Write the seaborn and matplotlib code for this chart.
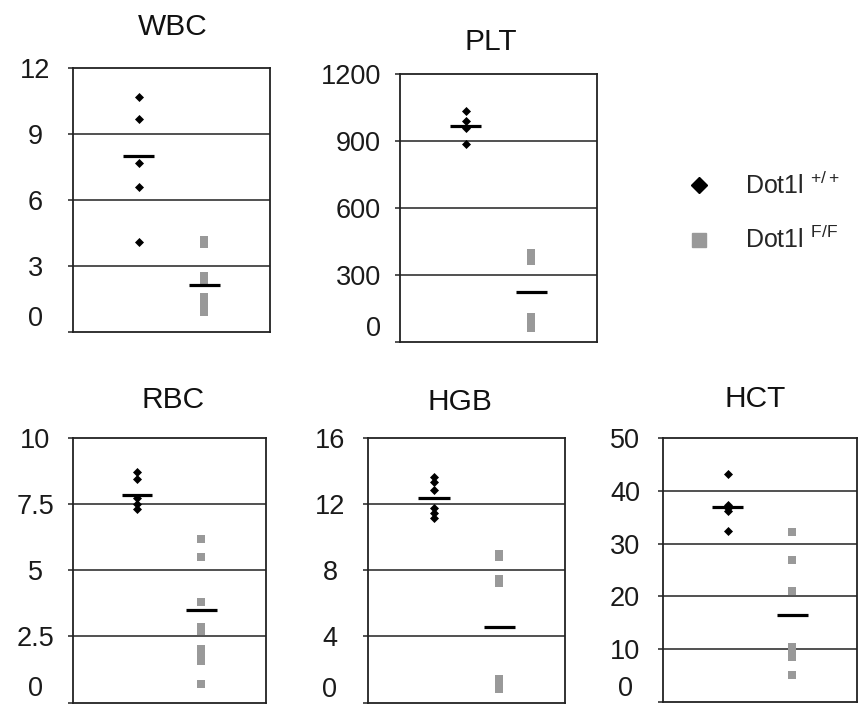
import matplotlib
matplotlib.use("Agg")
import matplotlib.pyplot as plt
import pandas as pd
import seaborn as sns
from matplotlib.lines import Line2D

sns.set_style("white")
plt.rcParams["font.family"] = ["Liberation Sans", "DejaVu Sans"]
plt.rcParams["mathtext.fontset"] = "custom"
plt.rcParams["mathtext.rm"] = "Liberation Sans"
plt.rcParams["mathtext.it"] = "Liberation Sans"
plt.rcParams["mathtext.bf"] = "Liberation Sans:bold"

GENOTYPES = ["+/+", "F/F"]

# --- blood counts per mouse -------------------------------------------------
wbc_wt = [10.7, 9.7, 7.7, 6.6, 4.1]
wbc_ff = [4.2, 4.0, 2.55, 2.3, 1.6, 1.25, 0.9]
wbc_mean = [8.0, 2.15]
wbc_ticks = [0, 3, 6, 9, 12]

plt_wt = [1035, 990, 960, 885]
plt_ff = [398, 364, 112, 87, 61]
plt_mean = [965, 222]
plt_ticks = [0, 300, 600, 900, 1200]

rbc_wt = [8.73, 8.46, 7.73, 7.51, 7.31]
rbc_ff = [6.17, 5.49, 3.8, 2.85, 2.7, 2.03, 1.8, 1.57, 0.71]
rbc_mean = [7.85, 3.5]
rbc_ticks = [0, 2.5, 5, 7.5, 10]
rbc_ticklabels = ["0", "2.5", "5", "7.5", "10"]

hgb_wt = [13.65, 13.3, 12.84, 11.74, 11.44, 11.13]
hgb_ff = [9.0, 8.8, 7.47, 7.24, 1.43, 1.1, 0.84]
hgb_mean = [12.34, 4.6]
hgb_ticks = [0, 4, 8, 12, 16]

hct_wt = [43.2, 37.3, 36.8, 36.2, 32.4]
hct_ff = [32.2, 26.9, 21.1, 10.3, 9.35, 8.4, 5.05]
hct_mean = [37.0, 16.4]
hct_ticks = [0, 10, 20, 30, 40, 50]

W, H = 858, 706
fig = plt.figure(figsize=(W / 100, H / 100), dpi=100)

LINE = "#222222"
GREY = "#999999"


def add_axes_px(left, right, top, bottom):
    return fig.add_axes([left / W, 1 - bottom / H, (right - left) / W, (bottom - top) / H])


def panel(box, title, wt, ff, means, ticks, ticklabels=None,
          title_x=0.5, title_pad=22, align="center", label_pad=23.5):
    ax = add_axes_px(*box)
    df = pd.DataFrame({
        "genotype": [GENOTYPES[0]] * len(wt) + [GENOTYPES[1]] * len(ff),
        "value": list(wt) + list(ff),
    })
    sns.stripplot(data=df[df.genotype == GENOTYPES[0]], x="genotype", y="value",
                  order=GENOTYPES, jitter=False, marker="D", size=4.6,
                  color="black", linewidth=0, zorder=3, ax=ax)
    sns.stripplot(data=df[df.genotype == GENOTYPES[1]], x="genotype", y="value",
                  order=GENOTYPES, jitter=False, marker="s", size=5.9,
                  color=GREY, linewidth=0, zorder=3, ax=ax)
    for i, m in enumerate(means):
        ax.hlines(m, i - 0.24, i + 0.24, color="black", lw=2.3, zorder=4)

    ax.set_xlim(-1, 2)
    ax.set_ylim(ticks[0], ticks[-1])
    ax.set_xticks([])
    ax.set_xlabel("")
    ax.set_ylabel("")
    ax.set_yticks(ticks)
    if ticklabels is None:
        ticklabels = [str(t) for t in ticks]
    ax.set_yticklabels(ticklabels)
    ax.set_axisbelow(True)
    for t in ticks[1:-1]:
        ax.axhline(t, color=LINE, lw=1.1, zorder=1)
    for sp in ax.spines.values():
        sp.set_visible(True)
        sp.set_color(LINE)
        sp.set_linewidth(1.3)
    ax.tick_params(axis="y", direction="out", length=3.6, width=1.1,
                   color=LINE, labelsize=19.5, labelcolor="#1a1a1a",
                   pad=label_pad, left=True)
    labels = ax.get_yticklabels()
    for lab in labels:
        lab.set_horizontalalignment(align)
    labels[0].set_verticalalignment("bottom")
    ax.set_title(title, fontsize=21.5, x=title_x, pad=title_pad, color="#111111")
    return ax


panel((73, 270, 68, 332), "WBC", wbc_wt, wbc_ff, wbc_mean, wbc_ticks,
      title_x=0.508, title_pad=23.8)
panel((400, 597, 74, 342), "PLT", plt_wt, plt_ff, plt_mean, plt_ticks,
      title_x=0.46, title_pad=17.5, align="right", label_pad=10)
panel((72.7, 265.7, 438.3, 702.5), "RBC", rbc_wt, rbc_ff, rbc_mean, rbc_ticks,
      rbc_ticklabels, title_x=0.522, title_pad=21.6)
panel((368.3, 565, 437.7, 702.7), "HGB", hgb_wt, hgb_ff, hgb_mean, hgb_ticks,
      title_x=0.464, title_pad=20, label_pad=24)
panel((662.7, 857.3, 438.3, 701.7), "HCT", hct_wt, hct_ff, hct_mean, hct_ticks,
      title_x=0.474, title_pad=22.3)

handles = [
    Line2D([], [], marker="D", color="black", ls="", markersize=8),
    Line2D([], [], marker="s", color=GREY, ls="", markersize=10),
]
fig.legend(handles, [r"Dot1l $^{+/+}$", r"Dot1l $^{F/F}$"],
           loc="center left", bbox_to_anchor=(676.5 / W, 1 - 212.5 / H),
           frameon=False, fontsize=18, handlelength=1.0, handletextpad=1.35,
           labelspacing=1.1, borderpad=0.4, borderaxespad=0)

fig.savefig("out.png", dpi=100)
